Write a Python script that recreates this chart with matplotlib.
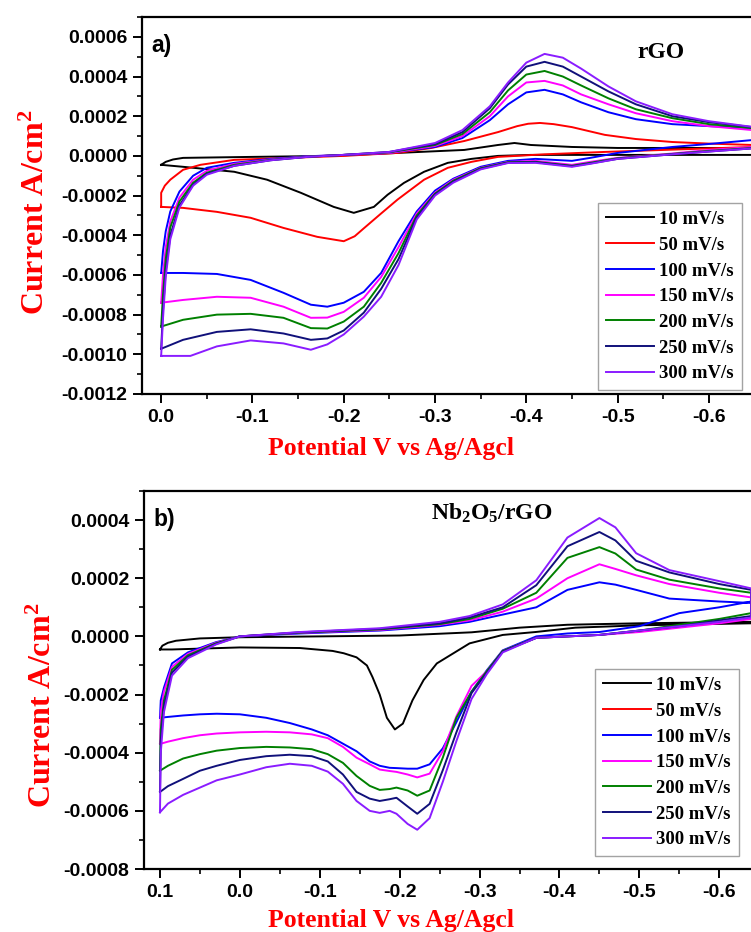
import matplotlib
matplotlib.use("Agg")
import matplotlib.pyplot as plt
from matplotlib.ticker import AutoMinorLocator, FormatStrFormatter
import numpy as np

plt.rcParams["axes.unicode_minus"] = False
plt.rcParams["mathtext.fontset"] = "custom"
plt.rcParams["mathtext.rm"] = "Liberation Serif:bold"
plt.rcParams["mathtext.it"] = "Liberation Serif:bold"
plt.rcParams["mathtext.bf"] = "Liberation Serif:bold"

rates = ["10 mV/s", "50 mV/s", "100 mV/s", "150 mV/s", "200 mV/s", "250 mV/s", "300 mV/s"]
colors = ["black", "#ff0000", "#0000ff", "#ff00ff", "#008000", "#10107a", "#8a1cff"]

# ---- panel a) rGO : potential (V) and current (x1e-4 A/cm2), one closed loop per rate
a_v10 = [0, -0.005, -0.013, -0.024, -0.1, -0.186, -0.259, -0.332, -0.369, -0.387, -0.405, -0.45, -0.5, -0.648,
         -0.648, -0.5, -0.405, -0.369, -0.34, -0.314, -0.288, -0.266, -0.248, -0.233, -0.211, -0.189,
         -0.153, -0.116, -0.08, -0.024, 0]
a_i10 = [-0.45, -0.3, -0.18, -0.1, -0.05, 0.0, 0.15, 0.3, 0.55, 0.65, 0.55, 0.45, 0.4, 0.4,
         0.05, 0.05, 0.05, 0.0, -0.15, -0.35, -0.8, -1.36, -1.96, -2.57, -2.87, -2.57,
         -1.86, -1.2, -0.8, -0.55, -0.45]

a_v50 = [0, 0, -0.004, -0.01, -0.024, -0.043, -0.08, -0.2, -0.259, -0.296, -0.332, -0.369, -0.39, -0.402,
         -0.415, -0.43, -0.45, -0.486, -0.52, -0.56, -0.6, -0.648,
         -0.648, -0.55, -0.486, -0.42, -0.369, -0.34, -0.314, -0.288, -0.259, -0.241, -0.222, -0.212, -0.2,
         -0.171, -0.134, -0.098, -0.061, -0.024, 0]
a_i50 = [-2.57, -1.86, -1.5, -1.2, -0.7, -0.45, -0.2, 0.0, 0.15, 0.4, 0.75, 1.2, 1.5, 1.62,
         1.66, 1.6, 1.45, 1.06, 0.85, 0.7, 0.62, 0.55,
         0.45, 0.3, 0.2, 0.08, -0.05, -0.3, -0.6, -1.2, -2.2, -2.9, -3.65, -4.05, -4.3,
         -4.08, -3.63, -3.12, -2.82, -2.62, -2.57]

a_vup = [0, -0.002, -0.005, -0.01, -0.02, -0.035, -0.05, -0.08, -0.12, -0.16, -0.2, -0.25, -0.3, -0.33, -0.36,
         -0.38, -0.4, -0.42, -0.44, -0.46, -0.49, -0.52, -0.56, -0.6, -0.648]
a_vlo = [-0.648, -0.6, -0.56, -0.5, -0.47, -0.45, -0.43, -0.41, -0.38, -0.35, -0.32, -0.3, -0.28, -0.26,
         -0.241, -0.222, -0.2, -0.182, -0.164, -0.134, -0.098, -0.061, -0.024, 0]
a_vlo300 = [-0.648, -0.6, -0.56, -0.5, -0.47, -0.45, -0.43, -0.41, -0.38, -0.35, -0.32, -0.3, -0.28, -0.26,
            -0.241, -0.222, -0.2, -0.182, -0.164, -0.134, -0.098, -0.061, -0.032, 0]

a_i100 = [-5.9, -4.8, -3.8, -2.8, -1.8, -1.0, -0.6, -0.35, -0.15, -0.02, 0.05, 0.15, 0.45, 0.9, 1.8,
          2.6, 3.2, 3.33, 3.1, 2.7, 2.2, 1.85, 1.6, 1.5, 1.4,
          0.8, 0.6, 0.45, 0.15, -0.1, -0.25, -0.2, -0.15, -0.25, -0.55, -1.15, -1.75, -2.8, -4.3,
          -5.9, -6.85, -7.4, -7.6, -7.5, -6.9, -6.25, -5.95, -5.9, -5.9]
a_i150 = [-7.4, -6.0, -4.6, -3.3, -2.1, -1.2, -0.75, -0.4, -0.18, -0.03, 0.05, 0.15, 0.5, 1.0, 2.0,
          3.0, 3.7, 3.78, 3.55, 3.1, 2.6, 2.15, 1.75, 1.5, 1.3,
          0.45, 0.3, 0.12, -0.1, -0.3, -0.45, -0.35, -0.25, -0.3, -0.6, -1.2, -1.85, -2.9, -4.6,
          -6.1, -7.15, -7.86, -8.15, -8.16, -7.6, -7.15, -7.1, -7.26, -7.4]
a_i200 = [-8.6, -7.0, -5.2, -3.6, -2.3, -1.35, -0.85, -0.45, -0.2, -0.04, 0.05, 0.18, 0.55, 1.1, 2.2,
          3.3, 4.1, 4.28, 4.0, 3.55, 2.9, 2.35, 1.9, 1.6, 1.4,
          0.4, 0.25, 0.1, -0.12, -0.35, -0.5, -0.4, -0.3, -0.32, -0.62, -1.25, -1.9, -3.0, -4.9,
          -6.4, -7.6, -8.35, -8.7, -8.68, -8.16, -7.96, -8.0, -8.26, -8.6]
a_i250 = [-9.72, -7.8, -5.8, -4.0, -2.5, -1.45, -0.9, -0.5, -0.22, -0.05, 0.05, 0.2, 0.6, 1.2, 2.4,
          3.6, 4.5, 4.74, 4.5, 4.0, 3.25, 2.6, 2.0, 1.7, 1.45,
          0.38, 0.22, 0.08, -0.15, -0.38, -0.52, -0.42, -0.32, -0.34, -0.65, -1.3, -1.95, -3.1, -5.2,
          -6.7, -7.9, -8.8, -9.2, -9.27, -8.95, -8.74, -8.87, -9.27, -9.72]
a_i300 = [-10.08, -8.2, -6.1, -4.2, -2.6, -1.5, -0.95, -0.5, -0.22, -0.05, 0.05, 0.2, 0.65, 1.3, 2.5,
          3.7, 4.7, 5.14, 4.95, 4.4, 3.5, 2.75, 2.1, 1.75, 1.46,
          0.38, 0.22, 0.08, -0.15, -0.4, -0.55, -0.45, -0.35, -0.36, -0.68, -1.35, -2.0, -3.2, -5.5,
          -7.1, -8.1, -9.0, -9.5, -9.77, -9.45, -9.3, -9.6, -10.08, -10.08]

# ---- panel b) Nb2O5/rGO
b_v10 = [0.1, 0.097, 0.09, 0.08, 0.05, 0.0, -0.1, -0.2, -0.29, -0.35, -0.41, -0.5, -0.64,
         -0.64, -0.5, -0.42, -0.37, -0.329, -0.2875, -0.2465, -0.23, -0.216, -0.204, -0.194, -0.184,
         -0.175, -0.166, -0.159, -0.146, -0.13, -0.116, -0.075, 0.0, 0.085, 0.1]
b_i10 = [-0.45, -0.32, -0.22, -0.15, -0.07, -0.03, 0.0, 0.03, 0.14, 0.3, 0.4, 0.45, 0.5,
         0.45, 0.38, 0.3, 0.15, 0.05, -0.24, -0.93, -1.5, -2.2, -3.0, -3.2, -2.8,
         -2.0, -1.4, -1.0, -0.72, -0.58, -0.5, -0.4, -0.38, -0.45, -0.45]

b_vup = [0.1, 0.099, 0.095, 0.085, 0.065, 0.03, 0.0, -0.075, -0.175, -0.25, -0.2875, -0.329, -0.371, -0.41,
         -0.45, -0.47, -0.496, -0.5375, -0.6, -0.64]
b_vlo = [-0.64, -0.6, -0.55, -0.5, -0.45, -0.41, -0.371, -0.329, -0.309, -0.29, -0.271, -0.254, -0.2375,
         -0.222, -0.21, -0.196, -0.1875, -0.175, -0.1625, -0.146, -0.129, -0.11, -0.09, -0.0625, -0.033,
         0.0, 0.029, 0.05, 0.071, 0.09, 0.1]
b_i100 = [-2.8, -2.2, -1.76, -0.93, -0.55, -0.2, 0.0, 0.1, 0.2, 0.35, 0.5, 0.75, 1.0, 1.6,
          1.86, 1.78, 1.6, 1.3, 1.2, 1.15,
          1.2, 1.0, 0.8, 0.35, 0.15, 0.1, 0.0, -0.48, -1.17, -1.9, -2.95, -3.85, -4.4,
          -4.55, -4.55, -4.53, -4.52, -4.45, -4.3, -3.95, -3.69, -3.4, -3.2, -2.98, -2.8,
          -2.68, -2.66, -2.68, -2.72, -2.77, -2.8]
b_i150 = [-3.7, -2.6, -1.9, -1.05, -0.6, -0.22, 0.0, 0.12, 0.22, 0.4, 0.55, 0.85, 1.3, 2.0,
          2.48, 2.32, 2.1, 1.8, 1.5, 1.34,
          0.6, 0.45, 0.3, 0.15, 0.05, 0.0, -0.05, -0.5, -1.2, -1.7, -2.75, -3.95, -4.72,
          -4.85, -4.75, -4.66, -4.63, -4.58, -4.4, -4.17, -3.8, -3.5, -3.37, -3.3, -3.28,
          -3.3, -3.34, -3.4, -3.5, -3.62, -3.7]
b_i200 = [-4.6, -3.2, -2.2, -1.15, -0.65, -0.24, 0.0, 0.13, 0.24, 0.42, 0.6, 0.95, 1.5, 2.7,
          3.07, 2.85, 2.3, 1.95, 1.65, 1.5,
          0.8, 0.6, 0.4, 0.2, 0.05, 0.0, -0.05, -0.5, -1.2, -1.9, -2.8, -4.17, -5.3,
          -5.48, -5.3, -5.2, -5.25, -5.28, -5.14, -4.8, -4.35, -4.05, -3.88, -3.82, -3.8,
          -3.84, -3.93, -4.05, -4.2, -4.45, -4.62]
b_i250 = [-5.35, -3.6, -2.4, -1.25, -0.7, -0.26, 0.0, 0.14, 0.26, 0.45, 0.65, 1.0, 1.76, 3.1,
          3.59, 3.3, 2.6, 2.2, 1.8, 1.6,
          0.7, 0.55, 0.35, 0.2, 0.05, 0.0, -0.05, -0.52, -1.25, -1.95, -3.3, -4.6, -5.76,
          -6.1, -5.85, -5.55, -5.6, -5.66, -5.58, -5.35, -4.75, -4.3, -4.12, -4.07, -4.12,
          -4.25, -4.45, -4.62, -4.9, -5.15, -5.35]
b_i300 = [-6.05, -4.0, -2.6, -1.35, -0.75, -0.28, 0.0, 0.15, 0.28, 0.5, 0.7, 1.1, 1.93, 3.4,
          4.07, 3.75, 2.86, 2.28, 1.9, 1.65,
          0.65, 0.5, 0.35, 0.2, 0.05, 0.0, -0.05, -0.55, -1.3, -2.15, -3.6, -5.0, -6.25,
          -6.65, -6.45, -6.1, -6.0, -6.07, -6.0, -5.66, -5.07, -4.65, -4.45, -4.38, -4.5,
          -4.75, -4.95, -5.2, -5.45, -5.75, -6.05]

a_lv = a_vup + a_vlo
a_curves = [(a_v10, a_i10), (a_v50, a_i50), (a_lv, a_i100), (a_lv, a_i150), (a_lv, a_i200),
            (a_lv, a_i250), (a_vup + a_vlo300, a_i300)]
b_lv = b_vup + b_vlo
b_curves = [(b_v10, b_i10), None, (b_lv, b_i100), (b_lv, b_i150), (b_lv, b_i200),
            (b_lv, b_i250), (b_lv, b_i300)]

a_xticks = [0.0, -0.1, -0.2, -0.3, -0.4, -0.5, -0.6]
a_yticks = [-0.0012, -0.0010, -0.0008, -0.0006, -0.0004, -0.0002, 0.0, 0.0002, 0.0004, 0.0006]
b_xticks = [0.1, 0.0, -0.1, -0.2, -0.3, -0.4, -0.5, -0.6]
b_yticks = [-0.0008, -0.0006, -0.0004, -0.0002, 0.0, 0.0002, 0.0004]

fig = plt.figure(figsize=(7.51, 9.32), dpi=100)
W, H = 751, 932


def panel(box, curves, xlim, ylim, xticks, yticks, tag, name, leg_xy, xlab_xy, ylab_xy):
    ax = fig.add_axes(box)
    for (c, lab, cur) in zip(colors, rates, curves):
        if cur is None:
            ax.plot([], [], color=c, lw=1.4, label=lab)
        else:
            ax.plot(cur[0], np.array(cur[1]) * 1e-4, color=c, lw=1.4, label=lab,
                    solid_joinstyle="round")
    ax.set_xlim(*xlim)
    ax.set_ylim(*ylim)
    ax.set_xticks(xticks)
    ax.set_yticks(yticks)
    ax.xaxis.set_major_formatter(FormatStrFormatter("%.1f"))
    ax.yaxis.set_major_formatter(FormatStrFormatter("%.4f"))
    ax.xaxis.set_minor_locator(AutoMinorLocator(2))
    ax.yaxis.set_minor_locator(AutoMinorLocator(2))
    ax.tick_params(which="major", direction="out", length=6.5, width=1.4, pad=4)
    ax.tick_params(which="minor", direction="out", length=3.5, width=1.2)
    ax.tick_params(top=False, right=False, which="both")
    for s in ax.spines.values():
        s.set_linewidth(1.6)
    for t in ax.get_xticklabels() + ax.get_yticklabels():
        t.set_fontfamily("Liberation Sans")
        t.set_fontweight("bold")
        t.set_fontsize(14)
    ax.set_xlabel("Potential V vs Ag/Agcl", color="#ff0000", fontsize=18.5,
                  fontweight="bold", family="Liberation Serif")
    ax.xaxis.set_label_coords(*xlab_xy)
    ax.set_ylabel("Current A/cm$^{2}$", color="#ff0000", fontsize=23,
                  fontweight="bold", family="Liberation Serif")
    ax.yaxis.set_label_coords(*ylab_xy)
    ax.text(0.015, 0.955, tag, transform=ax.transAxes, fontsize=16.5, fontweight="bold",
            family="Liberation Sans", va="top", ha="left")
    ax.text(name[1], name[2], name[0], transform=ax.transAxes, fontsize=17, fontweight="bold",
            family="Liberation Serif", va="center", ha="left")
    leg = ax.legend(loc="upper left", bbox_to_anchor=leg_xy, bbox_transform=fig.transFigure,
                    borderaxespad=0, frameon=True, fancybox=False, edgecolor="#8c8c8c",
                    handlelength=2.55, labelspacing=0.46, handletextpad=0.3, borderpad=0.42,
                    prop={"family": "Liberation Serif", "weight": "bold", "size": 13.5})
    leg.get_frame().set_linewidth(1.0)
    return ax


panel([142 / W, 1 - 394 / H, 618 / W, 377 / H], a_curves, (0.021, -0.656), (-0.0012, 0.0007),
      a_xticks, a_yticks, "a)", ("rGO", 0.802, 0.905), (598 / W, 1 - 203 / H),
      (0.403, -0.115), (-0.148, 0.483))
panel([144 / W, 1 - 869 / H, 616 / W, 378 / H], b_curves, (0.12, -0.651), (-0.0008, 0.0005),
      b_xticks, b_yticks, "b)", ("Nb$_{2}$O$_{5}$/rGO", 0.466, 0.94), (595 / W, 1 - 669 / H),
      (0.401, -0.105), (-0.14, 0.434))

fig.savefig("out.png", dpi=100)
